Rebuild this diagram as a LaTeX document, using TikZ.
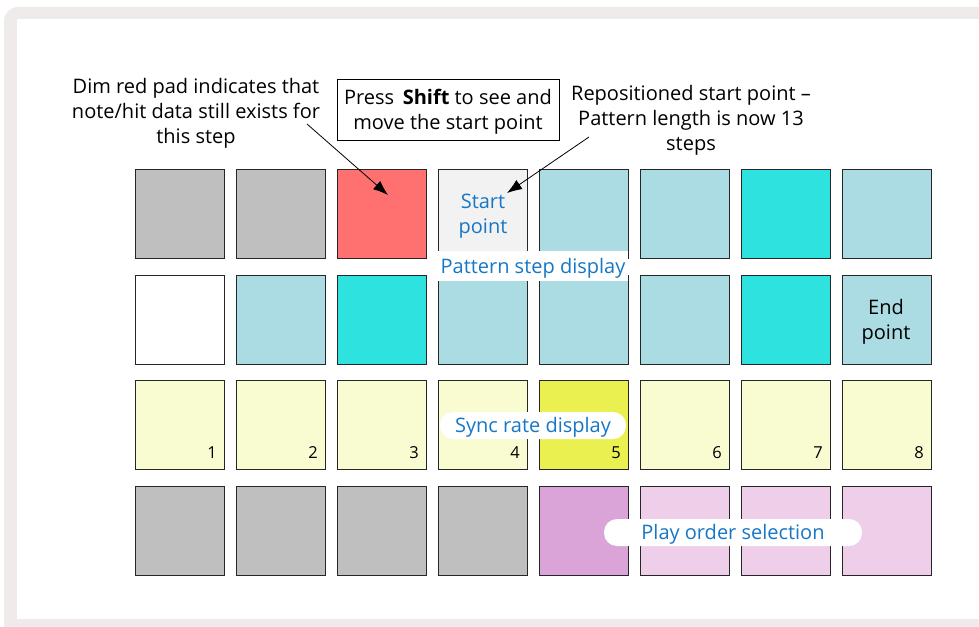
\documentclass[tikz,border=0pt]{standalone}
\usepackage{fontspec}
\setmainfont{Open Sans}
\usetikzlibrary{arrows.meta}
\definecolor{framegray}{HTML}{EEEBEA}
\definecolor{padgray}{HTML}{BFBFBF}
\definecolor{padred}{HTML}{FF7070}
\definecolor{padstart}{HTML}{F2F2F2}
\definecolor{padlb}{HTML}{ABDBE3}
\definecolor{padcyan}{HTML}{2EE2DF}
\definecolor{padwhite}{HTML}{FFFFFF}
\definecolor{padly}{HTML}{F9FCD1}
\definecolor{padyel}{HTML}{EAF04F}
\definecolor{padpur}{HTML}{DBA4D8}
\definecolor{padlp}{HTML}{EFCEEA}
\definecolor{lblblue}{HTML}{1677C6}
\begin{document}
\begin{tikzpicture}[x=1pt,y=-1pt,
  padbox/.style={draw=black!85, line width=0.9pt, minimum width=89pt, minimum height=89pt, inner sep=0pt, anchor=north west},
  txt/.style={font=\fontsize{20}{25}\selectfont, align=center, inner sep=0pt},
  bluelbl/.style={font=\fontsize{20}{25}\selectfont, text=lblblue, inner sep=0pt},
  numlbl/.style={font=\fontsize{16.5}{18}\selectfont, anchor=base east, inner sep=0pt},
  pill/.style={fill=white, rounded corners=13pt, minimum height=27pt, inner sep=0pt},
  callout/.style={-{Latex[length=15pt,width=11pt]}, line width=0.8pt}]
\useasboundingbox (0,0) rectangle (979,626);
% frame
\fill[framegray, rounded corners=14pt] (4,7) rectangle (1020,660);
\fill[white] (17,19) rectangle (1000,619);
% pads
\foreach \r/\cols in {
  1/{padgray,padgray,padred,padstart,padlb,padlb,padcyan,padlb},
  2/{padwhite,padlb,padcyan,padlb,padlb,padlb,padcyan,padlb},
  3/{padly,padly,padly,padly,padyel,padly,padly,padly},
  4/{padgray,padgray,padgray,padgray,padpur,padlp,padlp,padlp}}{
  \foreach \col [count=\c] in \cols {
    \node[padbox, fill=\col] (p\r-\c) at ({135+101*(\c-1)}, {169+105.67*(\r-1)}) {};
  }
}
% numbers
\foreach \c in {1,...,8}{
  \node[numlbl] (n\c) at ([xshift=-8pt,yshift=12pt]p3-\c.south east) {\c};
}
% pad texts
\node[bluelbl, align=center] (spt) at (483,216.5) {Start\\point};
\node[txt] (ept) at (886,322) {End\\point};
% region labels
\node[fill=white, minimum width=191pt, minimum height=30pt, inner sep=0pt] (psdbox) at (532.5,266) {};
\node[bluelbl] (psd) at (533,268) {Pattern step display};
\node[pill, minimum width=186pt] (srbox) at (533,425.5) {};
\node[bluelbl] (sr) at (533,427.5) {Sync rate display};
\node[pill, minimum width=258pt] (pobox) at (733,532.5) {};
\node[bluelbl] (po) at (733,534.5) {Play order selection};
% annotations
\node[txt] (dim) at (196,113) {Dim red pad indicates that\\note/hit data still exists for\\this step};
\node[draw=black, line width=0.9pt, minimum width=222pt, minimum height=61pt, inner sep=0pt] (shift) at (448,109.5) {};
\node[txt] (shifttxt) at (448,111.5) {Press\, \textbf{Shift} to see and\\move the start point};
\node[txt] (repos) at (691,120) {Repositioned start point –\\Pattern length is now 13\\steps};
% callouts
\coordinate (a1s) at (307,124);
\coordinate (a1e) at (388,195);
\coordinate (a2s) at (589,137);
\coordinate (a2e) at (507,193);
\draw[callout] (a1s) -- (a1e);
\draw[callout] (a2s) -- (a2e);
\end{tikzpicture}
\end{document}
